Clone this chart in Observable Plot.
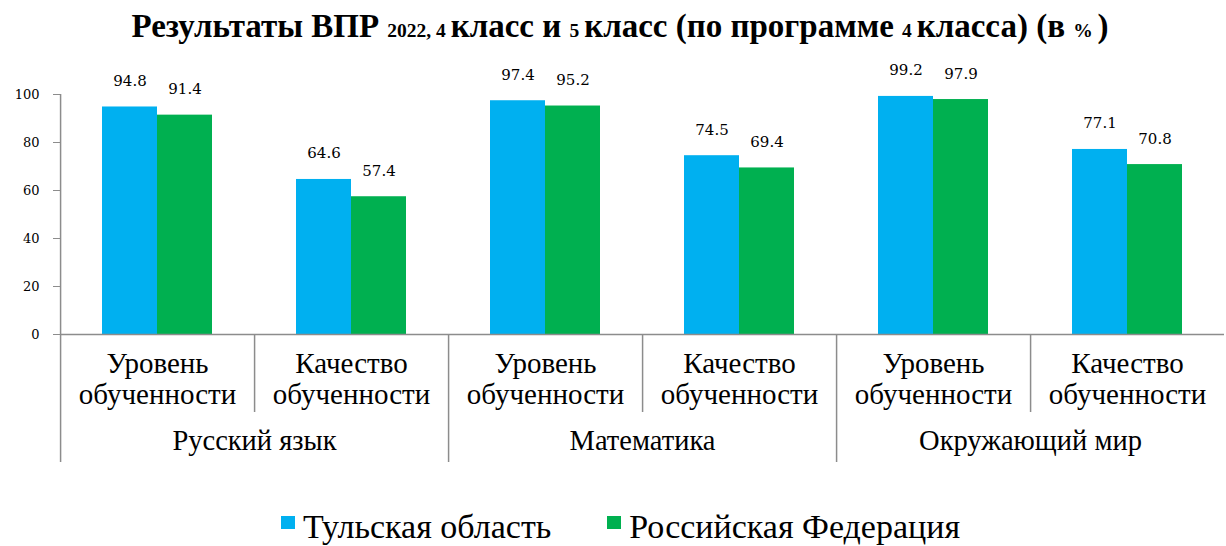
<!DOCTYPE html>
<html>
<head>
<meta charset="utf-8">
<script src="https://cdn.jsdelivr.net/npm/d3@7"></script>
<script src="https://cdn.jsdelivr.net/npm/@observablehq/plot@0.6"></script>
<style>
  html, body { margin: 0; padding: 0; background: #fff; }
  #wrap { width: 1226px; height: 546px; overflow: hidden; }
  #title { height: 52px; line-height: 52px; box-sizing: border-box; padding-left: 14px; text-align: center; font-family: "Liberation Serif", serif; font-weight: bold; font-size: 33px; color: #000; white-space: nowrap; }
  #title .s { font-size: 19.5px; }
  #legend { height: 66px; box-sizing: border-box; padding-top: 30px; padding-left: 15px; text-align: center; font-family: "Liberation Serif", serif; font-size: 34px; line-height: 34px; color: #000; white-space: nowrap; }
  #legend .item { display: inline-block; margin: 0 28px; }
  #legend .sw { display: inline-block; width: 14px; height: 13px; margin-right: 8px; vertical-align: 9px; }
  svg { display: block; }
</style>
</head>
<body>
<div id="wrap">
  <div id="title"></div>
  <div id="chart"></div>
  <div id="legend"></div>
</div>
<script>
// ---- data ----
const subjects = ["Русский язык", "Математика", "Окружающий мир"];
const metrics = ["Уровень обученности", "Качество обученности"];
const seriesNames = ["Тульская область", "Российская Федерация"];
const seriesColors = ["#00B0F0", "#00B050"];
const tulaValues = [94.8, 64.6, 97.4, 74.5, 99.2, 77.1];
const russiaValues = [91.4, 57.4, 95.2, 69.4, 97.9, 70.8];
const yTicks = [0, 20, 40, 60, 80, 100];
const titleParts = [
  ["Результаты ВПР ", false], ["2022, 4 ", true], ["класс и ", false], ["5 ", true],
  ["класс (по программе ", false], ["4 ", true], ["класса) (в ", false], ["% ", true], [")", false]
];

// ---- build table ----
const categories = [];
subjects.forEach((s, i) => metrics.forEach((m, j) => categories.push({key: s + "|" + m, subject: s, metric: m, first: j === 0, idx: i * 2 + j})));
const rows = [];
categories.forEach((c, k) => {
  rows.push({key: c.key, series: seriesNames[0], value: tulaValues[k]});
  rows.push({key: c.key, series: seriesNames[1], value: russiaValues[k]});
});

// ---- layout ----
const W = 1226, H = 428, ML = 57, MR = 0, MT = 42, MB = 146;
const fw = (W - ML - MR) / categories.length;
const bw = 56;
const pOuter = (fw / bw - 2) / 2;
const sepDx = -(fw - bw) / 2;       // from first-series band centre to facet left edge
const frameH = H - MT - MB;
const gray = "#8c8c8c";
const serif = "Liberation Serif";

document.getElementById("title").innerHTML = titleParts.map(([t, small]) => small ? `<span class="s">${t}</span>` : t).join("");

const plot = Plot.plot({
  width: W, height: H,
  marginLeft: ML, marginRight: MR, marginTop: MT, marginBottom: MB,
  style: {fontFamily: serif, color: "#000", background: "#fff", overflow: "visible"},
  fx: {domain: categories.map(c => c.key), padding: 0, axis: null},
  x: {domain: seriesNames, paddingInner: 0, paddingOuter: pOuter, axis: null},
  y: {domain: [0, 100], axis: null},
  color: {domain: seriesNames, range: seriesColors},
  marks: [
    Plot.barY(rows, {fx: "key", x: "series", y: "value", fill: "series"}),
    Plot.text(rows, {fx: "key", x: "series", y: "value", text: d => d.value.toFixed(1), lineAnchor: "bottom", dy: -21, fontSize: 15, fontFamily: "DejaVu Serif", fill: "#000"}),
    Plot.ruleY([0], {stroke: gray, strokeWidth: 1.5}),
    Plot.axisY({ticks: yTicks, tickSize: 7, tickPadding: 14, stroke: gray, fill: "#000", fontSize: 13, fontFamily: "DejaVu Serif", label: null}),
    // y axis line (first facet) extending below the baseline
    Plot.ruleX(categories.filter(c => c.idx === 0), {fx: "key", x: () => seriesNames[0], dx: sepDx, insetTop: 0, insetBottom: -128, stroke: gray, strokeWidth: 1.5}),
    // long separators between subjects
    Plot.ruleX(categories.filter(c => c.first && c.idx > 0), {fx: "key", x: () => seriesNames[0], dx: sepDx, insetTop: frameH, insetBottom: -128, stroke: gray, strokeWidth: 1.5}),
    // short separators between metrics
    Plot.ruleX(categories.filter(c => !c.first), {fx: "key", x: () => seriesNames[0], dx: sepDx, insetTop: frameH, insetBottom: -78, stroke: gray, strokeWidth: 1.5}),
    // category labels
    Plot.text(categories, {fx: "key", text: d => d.metric.replace(" ", "\n"), frameAnchor: "bottom", lineAnchor: "bottom", dy: 69, lineHeight: 31 / 29, fontSize: 29, fill: "#000"}),
    // subject labels
    Plot.text(categories.filter(c => c.first), {fx: "key", text: "subject", frameAnchor: "bottom-right", textAnchor: "middle", lineAnchor: "bottom", dy: 115, fontSize: 28.5, fill: "#000"})
  ]
});
document.getElementById("chart").appendChild(plot);

document.getElementById("legend").innerHTML = seriesNames.map((s, i) =>
  `<span class="item"><span class="sw" style="background:${seriesColors[i]}"></span>${s}</span>`).join("");
</script>
</body>
</html>
